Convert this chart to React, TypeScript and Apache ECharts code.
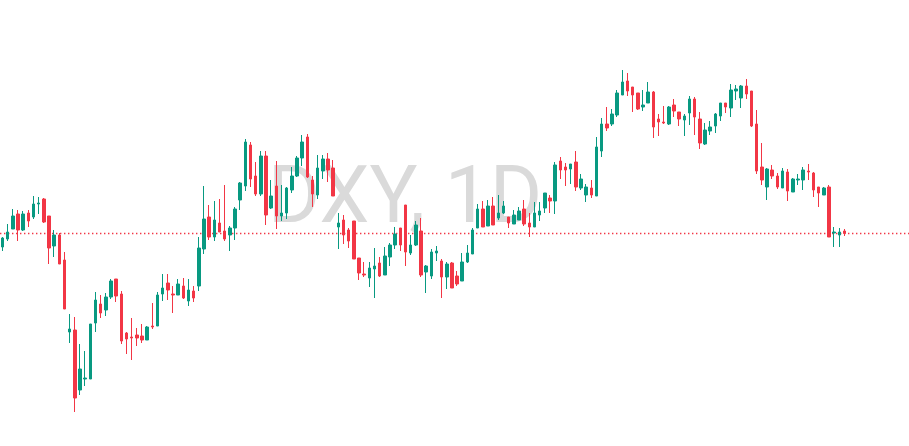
import React, { useEffect, useRef } from "react";
import * as echarts from "echarts";

// DXY daily candles (164 sessions)
const opens = [
  105.06, 105.22, 105.42, 105.72, 105.40, 105.74, 105.66, 105.92, 106.02, 105.68,
  105.08, 105.30, 104.80, 103.36, 103.40, 102.20, 102.42, 102.42, 103.54, 103.92,
  103.80, 104.06, 104.42, 104.12, 103.34, 103.26, 103.30, 103.28, 103.20, 103.48,
  103.48, 104.12, 104.34, 104.12, 104.10, 104.28, 103.98, 104.18, 104.28, 105.02,
  105.66, 105.26, 105.54, 105.38, 105.30, 105.44, 106.00, 106.28, 107.10, 106.48,
  106.12, 106.88, 105.84, 106.28, 105.68, 105.74, 106.20, 106.48, 106.84, 107.26,
  106.40, 106.10, 106.58, 106.82, 106.64, 105.46, 105.60, 105.40, 105.58, 104.84,
  104.52, 104.44, 104.62, 104.74, 104.50, 104.86, 105.10, 105.44, 105.90, 104.94,
  105.10, 105.38, 104.56, 104.48, 104.94, 104.78, 104.46, 104.74, 104.48, 104.38,
  104.76, 104.92, 105.44, 105.82, 105.48, 105.88, 105.64, 105.74, 105.66, 105.52,
  105.60, 105.82, 105.54, 105.46, 105.70, 105.84, 106.04, 105.98, 106.78, 106.66,
  106.62, 106.76, 106.24, 106.10, 106.24, 106.08, 106.98, 107.52, 107.52, 107.70,
  108.10, 108.38, 108.26, 108.14, 107.86, 107.94, 108.16, 107.62, 107.56, 107.52,
  107.90, 107.76, 107.60, 107.74, 108.02, 107.62, 107.12, 107.38, 107.48, 107.68,
  107.94, 107.84, 108.18, 108.04, 108.28, 108.18, 107.52, 106.66, 106.26, 106.60,
  106.48, 106.24, 106.56, 106.16, 106.40, 106.40, 106.58, 106.54, 106.26, 106.10,
  106.26, 105.34, 105.30, 105.38,
];
const closes = [
  105.24, 105.36, 105.68, 105.40, 105.72, 105.58, 105.92, 105.94, 105.56, 105.04,
  105.30, 104.72, 103.82, 103.42, 102.04, 102.62, 102.44, 103.52, 104.00, 103.74,
  104.06, 104.38, 104.08, 103.18, 103.22, 103.24, 103.24, 103.20, 103.46, 103.46,
  104.10, 104.24, 104.20, 104.10, 104.32, 104.04, 104.20, 104.04, 105.04, 105.62,
  105.26, 105.60, 105.36, 105.22, 105.44, 105.82, 106.34, 107.16, 106.42, 106.12,
  106.88, 105.70, 106.08, 105.68, 105.74, 106.24, 106.48, 106.84, 107.16, 106.46,
  106.12, 106.64, 106.82, 106.60, 106.08, 105.54, 105.30, 105.18, 104.82, 104.54,
  104.50, 104.64, 104.68, 104.48, 104.88, 105.10, 105.32, 105.10, 104.96, 105.10,
  105.50, 104.50, 104.68, 104.96, 104.98, 104.46, 104.72, 104.24, 104.32, 104.76,
  104.94, 105.40, 105.82, 105.46, 105.88, 105.50, 105.74, 105.88, 105.54, 105.70,
  105.78, 105.52, 105.46, 105.74, 105.78, 106.14, 105.98, 106.70, 106.60, 106.60,
  106.72, 106.26, 106.42, 106.26, 106.10, 107.06, 107.52, 107.44, 107.72, 108.14,
  108.36, 108.18, 108.10, 107.82, 107.90, 108.16, 107.46, 107.56, 107.54, 107.86,
  107.78, 107.62, 107.68, 108.02, 107.66, 107.14, 107.40, 107.46, 107.72, 107.94,
  107.86, 108.20, 108.22, 108.28, 108.12, 107.48, 106.58, 106.40, 106.62, 106.48,
  106.26, 106.58, 106.18, 106.42, 106.42, 106.60, 106.56, 106.20, 106.14, 106.24,
  105.26, 105.36, 105.36, 105.33,
];
const lows = [
  104.98, 105.18, 105.42, 105.18, 105.38, 105.46, 105.62, 105.72, 105.54, 104.72,
  104.86, 104.72, 103.82, 103.14, 101.76, 102.10, 102.28, 102.42, 103.36, 103.64,
  103.68, 104.02, 103.96, 103.12, 102.92, 102.80, 103.08, 103.14, 103.20, 103.42,
  103.48, 103.98, 104.00, 103.74, 104.10, 104.02, 103.88, 103.96, 104.18, 104.92,
  105.20, 105.18, 105.36, 105.18, 104.98, 105.20, 105.80, 106.18, 106.26, 106.08,
  106.08, 105.50, 105.82, 105.42, 105.58, 105.62, 106.14, 106.46, 106.68, 106.44,
  105.86, 106.02, 106.42, 106.36, 106.08, 105.02, 105.12, 105.04, 104.82, 104.40,
  104.46, 104.26, 104.04, 104.46, 104.50, 104.68, 105.02, 104.98, 104.68, 104.90,
  105.08, 104.46, 104.14, 104.42, 104.78, 104.04, 104.22, 104.24, 104.28, 104.38,
  104.74, 104.92, 105.44, 105.46, 105.48, 105.50, 105.60, 105.72, 105.44, 105.52,
  105.60, 105.48, 105.26, 105.46, 105.58, 105.74, 105.74, 105.72, 106.42, 106.28,
  106.32, 106.18, 106.20, 105.96, 106.04, 106.08, 106.86, 107.38, 107.48, 107.66,
  108.10, 108.08, 107.76, 107.80, 107.78, 107.94, 107.24, 107.28, 107.52, 107.50,
  107.66, 107.48, 107.28, 107.50, 107.30, 107.02, 107.10, 107.30, 107.34, 107.58,
  107.74, 107.66, 108.00, 107.84, 108.02, 107.46, 106.52, 106.30, 106.00, 106.42,
  106.22, 106.24, 105.98, 106.16, 106.30, 106.20, 106.40, 106.06, 105.86, 106.10,
  105.26, 105.06, 105.06, 105.28,
];
const highs = [
  105.26, 105.52, 105.82, 105.80, 105.78, 105.80, 106.08, 106.06, 106.04, 105.68,
  105.40, 105.34, 104.96, 103.72, 103.66, 103.12, 102.98, 103.52, 104.16, 104.10,
  104.14, 104.42, 104.42, 104.18, 103.36, 103.64, 103.44, 103.52, 103.48, 103.94,
  104.16, 104.52, 104.52, 104.28, 104.42, 104.44, 104.42, 104.28, 105.26, 106.28,
  105.90, 105.98, 106.02, 106.30, 105.48, 105.86, 106.36, 107.22, 107.16, 106.76,
  106.98, 106.98, 106.40, 106.78, 106.30, 106.26, 106.66, 106.88, 107.30, 107.32,
  106.48, 106.90, 106.90, 106.94, 106.80, 105.74, 105.70, 105.44, 105.58, 104.84,
  104.76, 104.76, 105.04, 104.86, 105.06, 105.14, 105.46, 105.44, 105.90, 105.30,
  105.58, 105.64, 104.70, 105.02, 105.08, 104.82, 104.76, 104.76, 104.58, 104.94,
  105.10, 105.44, 105.92, 105.98, 106.00, 106.06, 106.10, 105.98, 105.66, 105.80,
  105.86, 106.00, 105.74, 105.96, 105.96, 106.14, 106.10, 106.76, 106.86, 106.74,
  106.72, 106.98, 106.52, 106.32, 106.40, 107.26, 107.64, 107.86, 107.82, 108.20,
  108.60, 108.54, 108.26, 108.14, 108.20, 108.36, 108.18, 107.72, 107.88, 107.88,
  108.02, 107.76, 107.72, 108.08, 108.06, 107.76, 107.54, 107.58, 107.74, 107.94,
  107.94, 108.32, 108.30, 108.30, 108.42, 108.18, 107.80, 107.14, 106.64, 106.70,
  106.54, 106.64, 106.62, 106.44, 106.52, 106.66, 106.72, 106.56, 106.26, 106.26,
  106.30, 105.46, 105.44, 105.42,
];

// x slots: the traded sessions plus the empty space to the right of the last bar
const slotCount = 176;
const slots = Array.from({ length: slotCount }, (_, i) => `D${i + 1}`);

const symbolText = "DXY, 1D";
const priceMin = 101.08;
const priceMax = 110;

const UP = "#089981";
const DOWN = "#F23645";

export default function App() {
  const ref = useRef<HTMLDivElement>(null);

  useEffect(() => {
    if (!ref.current) return;
    const chart = echarts.init(ref.current, undefined, { renderer: "svg" });
    const candles = opens.map((o, i) => [o, closes[i], lows[i], highs[i]]);
    const lastClose = closes[closes.length - 1];

    chart.setOption({
      animation: false,
      backgroundColor: "#ffffff",
      grid: { left: 0, right: 0, top: 0, bottom: 0, outerBoundsMode: "none", containLabel: false },
      xAxis: {
        type: "category",
        data: slots,
        boundaryGap: true,
        axisLine: { show: false },
        axisTick: { show: false },
        axisLabel: { show: false },
        splitLine: { show: false },
      },
      yAxis: {
        type: "value",
        min: priceMin,
        max: priceMax,
        axisLine: { show: false },
        axisTick: { show: false },
        axisLabel: { show: false },
        splitLine: { show: false },
      },
      graphic: [
        {
          type: "text",
          z: 0,
          x: 405,
          y: 195,
          silent: true,
          style: {
            text: symbolText,
            fontFamily: "Roboto",
            fontSize: 80,
            fill: "#dadada",
            align: "center",
            verticalAlign: "middle",
          },
        },
      ],
      series: [
        {
          type: "candlestick",
          data: candles,
          barWidth: 3,
          z: 5,
          itemStyle: {
            color: UP,
            color0: DOWN,
            borderColor: UP,
            borderColor0: DOWN,
            borderWidth: 1,
          },
          markLine: {
            silent: true,
            symbol: ["none", "none"],
            label: { show: false },
            lineStyle: { color: DOWN, width: 1.3, type: [1.4, 2.6] },
            data: [{ yAxis: lastClose }],
          },
        },
      ],
    });

    return () => chart.dispose();
  }, []);

  return (
    <div
      ref={ref}
      style={{ position: "fixed", left: 0, top: 0, width: 909, height: 446, background: "#fff" }}
    />
  );
}
